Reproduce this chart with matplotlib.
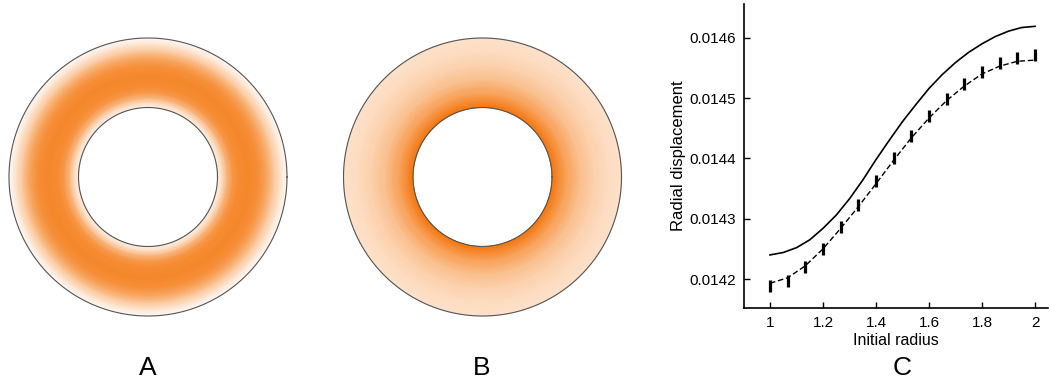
import numpy as np
import matplotlib
matplotlib.use("Agg")
import matplotlib.pyplot as plt
from matplotlib.colors import LinearSegmentedColormap

plt.rcParams['font.family'] = ['Liberation Sans', 'DejaVu Sans']

# ---- Panel A: radial intensity profile (normalised) ----
ringA_radius = [1.0, 1.04, 1.08, 1.14, 1.22, 1.3, 1.45, 1.6, 1.72, 1.82, 1.92, 2.0]
ringA_intensity = [0.15, 0.22, 0.38, 0.62, 0.8, 0.87, 0.9, 0.84, 0.68, 0.45, 0.2, 0.04]

# ---- Panel B: radial intensity profile (normalised) ----
ringB_radius = [1.0, 1.1, 1.2, 1.4, 1.6, 1.8, 2.0]
ringB_intensity = [1.0, 0.86, 0.73, 0.54, 0.4, 0.31, 0.25]

# ---- Panel C ----
exact_x = [1.0, 1.05, 1.1, 1.15, 1.2, 1.25, 1.3, 1.35, 1.4, 1.45, 1.5,
           1.55, 1.6, 1.65, 1.7, 1.75, 1.8, 1.85, 1.9, 1.95, 2.0]
exact_y = [0.014240, 0.014244, 0.014252, 0.014265, 0.014284, 0.014306,
           0.014333, 0.014364, 0.014398, 0.014430, 0.014461, 0.014489,
           0.014516, 0.014539, 0.014559, 0.014576, 0.014590, 0.014602,
           0.014611, 0.014617, 0.014619]
num_x = [1.0, 1.0667, 1.1333, 1.2, 1.2667, 1.3333, 1.4, 1.4667, 1.5333,
         1.6, 1.6667, 1.7333, 1.8, 1.8667, 1.9333, 2.0]
num_line_y = [0.014193, 0.014202, 0.014222, 0.014250, 0.014284, 0.014320,
              0.014358, 0.014397, 0.014434, 0.014467, 0.014496, 0.014520,
              0.014540, 0.014553, 0.014561, 0.014563]
num_mark_y = [0.014188, 0.014197, 0.014220, 0.014250, 0.014286, 0.014322,
              0.014362, 0.014401, 0.014437, 0.014470, 0.014498, 0.014524,
              0.014543, 0.014559, 0.014567, 0.014571]
x_ticks = [1, 1.2, 1.4, 1.6, 1.8, 2]
x_ticklabels = ['1', '1.2', '1.4', '1.6', '1.8', '2']
y_ticks = [0.0142, 0.0143, 0.0144, 0.0145, 0.0146]
y_ticklabels = ['0.0142', '0.0143', '0.0144', '0.0145', '0.0146']

W, H = 1051, 379
fig = plt.figure(figsize=(W / 100, H / 100), dpi=100)

cmap = LinearSegmentedColormap.from_list('orng', ['#FFFFFF', '#FBC699', '#F47810'])

def ring_axes(cx, cy, rpx, radius, intensity):
    half = rpx / 2.0 * 2.1
    ax = fig.add_axes([(cx - half) / W, 1 - (cy + half) / H, 2 * half / W, 2 * half / H])
    th = np.linspace(0, 2 * np.pi, 361)
    R, T = np.meshgrid(np.array(radius), th)
    V = np.tile(np.array(intensity), (len(th), 1))
    ax.pcolormesh(R * np.cos(T), R * np.sin(T), V, cmap=cmap, vmin=0, vmax=1,
                  shading='gouraud', rasterized=True)
    for rr in (1.0, 2.0):
        ax.plot(rr * np.cos(th), rr * np.sin(th), color='#555555', lw=0.8)
    ax.set_xlim(-2.1, 2.1)
    ax.set_ylim(-2.1, 2.1)
    ax.set_aspect('equal')
    ax.axis('off')
    return ax

ring_axes(148, 177, 139, ringA_radius, ringA_intensity)
ring_axes(482.5, 177, 139, ringB_radius, ringB_intensity)

# Panel C
axC = fig.add_axes([744 / W, 1 - 308 / H, (1048 - 744) / W, (308 - 4) / H])
axC.plot(exact_x, exact_y, color='black', lw=1.2, solid_joinstyle='round')
axC.plot(num_x, num_line_y, color='black', lw=1.0, dashes=(4, 2))
axC.plot(num_x, num_mark_y, linestyle='none', marker='|', markersize=8,
         markeredgewidth=2.3, color='black')
axC.set_xlim(0.902, 2.049)
axC.set_ylim(0.014152, 0.014656)
axC.set_xticks(x_ticks)
axC.set_xticklabels(x_ticklabels)
axC.set_yticks(y_ticks)
axC.set_yticklabels(y_ticklabels)
axC.tick_params(direction='in', length=4, width=1, labelsize=11, pad=6)
for s in ('top', 'right'):
    axC.spines[s].set_visible(False)
for s in ('left', 'bottom'):
    axC.spines[s].set_linewidth(1.2)
axC.set_xlabel('Initial radius', fontsize=11.5, labelpad=2)
axC.set_ylabel('Radial displacement', fontsize=12, labelpad=2)

for lbl, x in (('A', 148), ('B', 482), ('C', 902)):
    fig.text(x / W, 1 - 368 / H, lbl, fontsize=19, ha='center', va='center')

fig.savefig('out.png', dpi=100)
